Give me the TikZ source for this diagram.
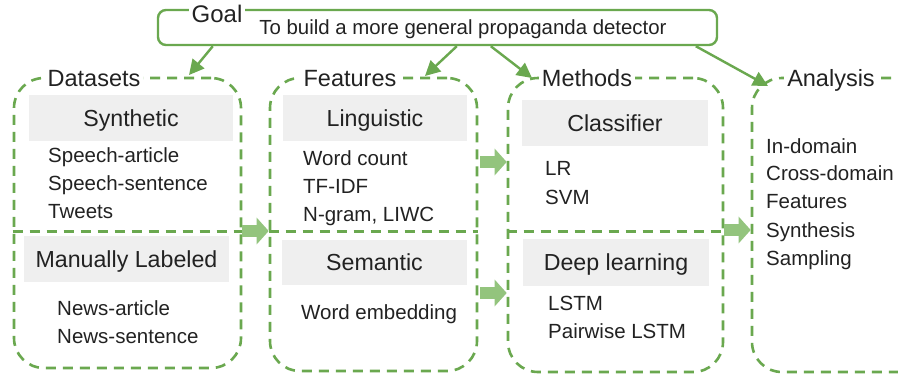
\documentclass[tikz,border=0pt]{standalone}
\usepackage{fontspec}
\setmainfont{Liberation Sans}
\usetikzlibrary{arrows.meta}
\definecolor{frame}{HTML}{6AA84F}
\definecolor{flow}{HTML}{93C47D}
\definecolor{band}{HTML}{EFEFEF}
\definecolor{ink}{HTML}{222222}

\begin{document}
\begin{tikzpicture}[x=1pt,y=-1pt,
  section/.style={draw=frame, line width=2.6pt, dash pattern=on 10pt off 7pt,
    rounded corners=30pt, inner sep=0pt},
  sepline/.style={draw=frame, line width=2.6pt, dash pattern=on 10pt off 7pt},
  seclabel/.style={fill=white, inner xsep=3pt, inner ysep=1pt, text=ink,
    font=\fontsize{23.5}{26}\selectfont, text height=16.8pt, text depth=0pt},
  header/.style={fill=band, inner sep=0pt, text=ink,
    font=\fontsize{23.2}{26}\selectfont, text height=16.6pt, text depth=0pt},
  item/.style={anchor=west, inner sep=0pt, text=ink,
    font=\fontsize{20.5}{24}\selectfont, text height=14.7pt, text depth=0pt},
  goalbox/.style={draw=frame, line width=2.4pt, rounded corners=8pt, inner sep=0pt},
  goalarrow/.style={draw=frame, line width=2.4pt, -{Triangle[length=15pt,width=15pt]}},
  flowarrow/.style={draw=flow, line width=12pt, -{Triangle[length=12pt,width=26pt]}}
]
\clip (0,0) rectangle (898,378);
\fill[white] (0,0) rectangle (898,378);

% goal
\node[goalbox, minimum width=559pt, minimum height=35pt] (goal) at (437.5,27.5) {};
\node[seclabel, font=\fontsize{24}{26}\selectfont, text height=17.2pt] (goallabel) at (217,14) {Goal};
\node[item, anchor=center, font=\fontsize{20.4}{24}\selectfont] (goaltext) at (463,27) {To build a more general propaganda detector};

% section frames
\node[section, minimum width=227pt, minimum height=290pt] (ds) at (127.5,223) {};
\node[section, minimum width=207pt, minimum height=293pt] (ft) at (373.5,224.5) {};
\node[section, minimum width=215pt, minimum height=294pt] (mt) at (615.5,225) {};
\node[section, minimum width=220pt, minimum height=294pt] (an) at (862,225) {};

% inner dividers
\coordinate (ydiv) at (0,231.5);
\draw[sepline] (ds.west |- ydiv) -- (ds.east |- ydiv);
\draw[sepline] (ft.west |- ydiv) -- (ft.east |- ydiv);
\draw[sepline] (mt.west |- ydiv) -- (mt.east |- ydiv);

% section titles
\node[seclabel] (dslabel) at (94,78) {Datasets};
\node[seclabel] (ftlabel) at (350,78) {Features};
\node[seclabel] (mtlabel) at (587,78) {Methods};
\node[seclabel] (anlabel) at (831,78) {Analysis};

% group headers
\node[header, minimum width=204pt, minimum height=46pt] (syn) at (131,118) {Synthetic};
\node[header, minimum width=205pt, minimum height=46pt] (man) at (126.5,259) {Manually Labeled};
\node[header, minimum width=184pt, minimum height=46pt] (lin) at (375,118) {Linguistic};
\node[header, minimum width=185pt, minimum height=45pt] (sem) at (374.5,262.5) {Semantic};
\node[header, minimum width=186pt, minimum height=46pt] (cls) at (615,123) {Classifier};
\node[header, minimum width=186pt, minimum height=47pt] (dl) at (616,262.5) {Deep learning};

% datasets
\node[item] (d1) at (48,155) {Speech-article};
\node[item] (d2) at (48,183) {Speech-sentence};
\node[item] (d3) at (48,211) {Tweets};
\node[item] (d4) at (57,308) {News-article};
\node[item] (d5) at (57,336) {News-sentence};

% features
\node[item] (f1) at (303,158) {Word count};
\node[item] (f2) at (303,186) {TF-IDF};
\node[item] (f3) at (303,214) {N-gram, LIWC};
\node[item] (f4) at (301,312) {Word embedding};

% methods
\node[item] (m1) at (545,168) {LR};
\node[item] (m2) at (545,197) {SVM};
\node[item] (m3) at (548,303) {LSTM};
\node[item] (m4) at (548,331) {Pairwise LSTM};

% analysis
\node[item] (a1) at (766,146) {In-domain};
\node[item] (a2) at (766,173) {Cross-domain};
\node[item] (a3) at (766,201) {Features};
\node[item] (a4) at (766,230) {Synthesis};
\node[item] (a5) at (766,258) {Sampling};

% goal to sections
\coordinate (dsin) at (189,75);
\coordinate (ftin) at (425,76);
\coordinate (mtin) at (532,78);
\coordinate (anin) at (768,86);
\draw[goalarrow] ([xshift=56pt]goal.south west) -- (dsin);
\draw[goalarrow] ([xshift=300pt]goal.south west) -- (ftin);
\draw[goalarrow] ([xshift=334pt]goal.south west) -- (mtin);
\draw[goalarrow] ([xshift=539pt]goal.south west) -- (anin);

% flow between sections
\coordinate (yb1) at (0,231);
\coordinate (yb2) at (0,162);
\coordinate (yb3) at (0,293);
\coordinate (yb4) at (0,230);
\draw[flowarrow] (ds.east |- yb1) -- (ft.west |- yb1);
\draw[flowarrow] ([xshift=2pt]ft.east |- yb2) -- (mt.west |- yb2);
\draw[flowarrow] ([xshift=2pt]ft.east |- yb3) -- (mt.west |- yb3);
\draw[flowarrow] (mt.east |- yb4) -- (an.west |- yb4);
\end{tikzpicture}
\end{document}
